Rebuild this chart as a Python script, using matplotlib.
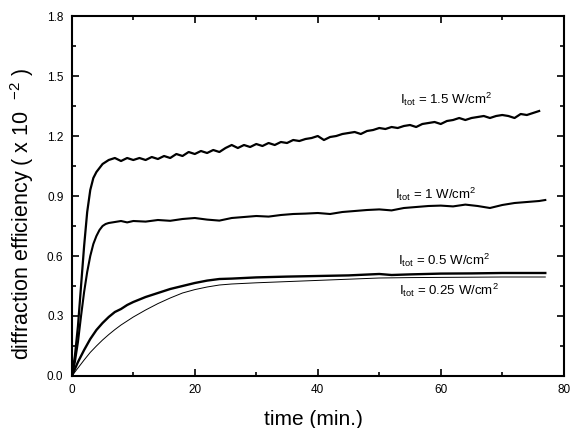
import numpy as np
import matplotlib
matplotlib.use("Agg")
import matplotlib.pyplot as plt
from matplotlib.ticker import MultipleLocator, FormatStrFormatter

plt.rcParams['font.family'] = ['Liberation Sans', 'DejaVu Sans']
plt.rcParams['mathtext.fontset'] = 'custom'
plt.rcParams['mathtext.rm'] = 'Liberation Sans'

# I_tot = 1.5 W/cm2
t_15 = [0, 0.5, 1.0, 1.5, 2.0, 2.5, 3.0, 3.5, 4.0, 4.5, 5.0, 5.5, 6, 7, 8, 9, 10,
        11, 12, 13, 14, 15, 16, 17, 18, 19, 20, 21, 22, 23, 24, 25, 26, 27, 28,
        29, 30, 31, 32, 33, 34, 35, 36, 37, 38, 39, 40, 41, 42, 43, 44, 45, 46,
        47, 48, 49, 50, 51, 52, 53, 54, 55, 56, 57, 58, 59, 60, 61, 62, 63, 64,
        65, 66, 67, 68, 69, 70, 71, 72, 73, 74, 75, 76]
y_15 = [0, 0.10, 0.25, 0.45, 0.65, 0.82, 0.93, 0.99, 1.02, 1.04, 1.06, 1.07, 1.08,
        1.09, 1.075, 1.09, 1.08, 1.09, 1.08, 1.095, 1.085, 1.10, 1.09, 1.11, 1.10,
        1.12, 1.11, 1.125, 1.115, 1.13, 1.12, 1.14, 1.155, 1.14, 1.155, 1.145,
        1.16, 1.15, 1.165, 1.155, 1.17, 1.165, 1.18, 1.175, 1.185, 1.19, 1.20,
        1.18, 1.195, 1.20, 1.21, 1.215, 1.22, 1.21, 1.225, 1.23, 1.24, 1.235,
        1.245, 1.24, 1.25, 1.255, 1.245, 1.26, 1.265, 1.27, 1.26, 1.275, 1.28,
        1.29, 1.28, 1.29, 1.295, 1.30, 1.29, 1.30, 1.305, 1.30, 1.29, 1.31, 1.305,
        1.315, 1.325]

# I_tot = 1 W/cm2
t_10 = [0, 0.5, 1.0, 1.5, 2.0, 2.5, 3.0, 3.5, 4.0, 4.5, 5.0, 5.5, 6, 7, 8, 9, 10,
        12, 14, 16, 18, 20, 22, 24, 26, 28, 30, 32, 34, 36, 38, 40, 42, 44, 46,
        48, 50, 52, 54, 56, 58, 60, 62, 64, 66, 68, 70, 72, 74, 76, 77]
y_10 = [0, 0.07, 0.17, 0.30, 0.42, 0.52, 0.60, 0.66, 0.70, 0.73, 0.75, 0.76, 0.765,
        0.77, 0.775, 0.768, 0.775, 0.772, 0.78, 0.776, 0.785, 0.79, 0.782, 0.777,
        0.79, 0.795, 0.80, 0.797, 0.805, 0.81, 0.812, 0.815, 0.81, 0.82, 0.825,
        0.83, 0.833, 0.828, 0.84, 0.845, 0.85, 0.852, 0.848, 0.857, 0.85, 0.84,
        0.855, 0.865, 0.87, 0.875, 0.88]

# I_tot = 0.5 W/cm2
t_05 = [0, 1, 2, 3, 4, 5, 6, 7, 8, 9, 10, 12, 14, 16, 18, 20, 22, 24, 26, 28, 30,
        35, 40, 45, 50, 52, 55, 60, 65, 70, 77]
y_05 = [0, 0.07, 0.13, 0.185, 0.23, 0.265, 0.295, 0.32, 0.335, 0.355, 0.37, 0.395,
        0.415, 0.435, 0.45, 0.465, 0.477, 0.485, 0.487, 0.49, 0.493, 0.497, 0.50,
        0.503, 0.51, 0.505, 0.508, 0.512, 0.513, 0.515, 0.515]

# I_tot = 0.25 W/cm2
t_025 = [0, 1, 2, 3, 4, 5, 6, 7, 8, 9, 10, 12, 14, 16, 18, 20, 22, 24, 26, 28, 30,
         35, 40, 45, 50, 55, 60, 65, 70, 77]
y_025 = [0, 0.04, 0.08, 0.118, 0.15, 0.18, 0.207, 0.232, 0.255, 0.275, 0.295, 0.33,
         0.362, 0.39, 0.415, 0.432, 0.445, 0.455, 0.46, 0.463, 0.466, 0.472, 0.478,
         0.484, 0.49, 0.492, 0.493, 0.494, 0.495, 0.495]

labels = [r'I$\mathregular{_{tot}}$ = 1.5 W/cm$\mathregular{^2}$',
          r'I$\mathregular{_{tot}}$ = 1 W/cm$\mathregular{^2}$',
          r'I$\mathregular{_{tot}}$ = 0.5 W/cm$\mathregular{^2}$',
          r'I$\mathregular{_{tot}}$ = 0.25 W/cm$\mathregular{^2}$']
label_pos = [(53.3, 1.36), (52.6, 0.888), (53.0, 0.555), (53.2, 0.405)]

fig = plt.figure(figsize=(5.7, 4.28), dpi=100)
ax = fig.add_axes([0.126, 0.1215, 0.863, 0.8411])

ax.plot(t_15, y_15, color='black', lw=1.6)
ax.plot(t_10, y_10, color='black', lw=1.5)
ax.plot(t_05, y_05, color='black', lw=1.7)
ax.plot(t_025, y_025, color='black', lw=0.7)

for lab, (x, y) in zip(labels, label_pos):
    ax.text(x, y, lab, fontsize=9.5, ha='left', va='baseline')

ax.set_xlim(0, 80)
ax.set_ylim(0, 1.8)
ax.xaxis.set_major_locator(MultipleLocator(20))
ax.xaxis.set_minor_locator(MultipleLocator(10))
ax.yaxis.set_major_locator(MultipleLocator(0.3))
ax.yaxis.set_minor_locator(MultipleLocator(0.15))
ax.yaxis.set_major_formatter(FormatStrFormatter('%.1f'))
ax.tick_params(which='both', direction='in', top=True, right=True, labelsize=8.5, width=1.2)
ax.tick_params(which='major', length=5, pad=6)
ax.tick_params(which='minor', length=3)
for s in ax.spines.values():
    s.set_linewidth(1.5)

ax.set_xlabel('time (min.)', fontsize=15)
ax.set_ylabel(r'diffraction efficiency ( x 10  $\mathregular{^{-2}}$ )', fontsize=15.5)
ax.xaxis.set_label_coords(0.492, -0.095)
ax.yaxis.set_label_coords(-0.072, 0.45)

fig.savefig('out.png', dpi=100)
